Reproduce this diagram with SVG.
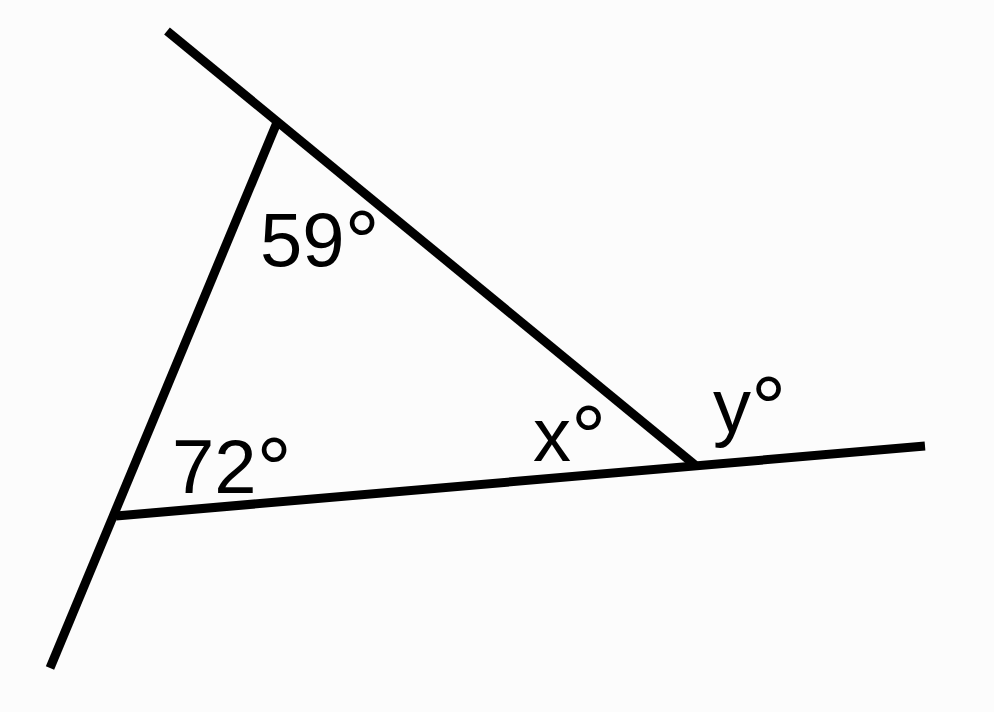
<svg xmlns="http://www.w3.org/2000/svg" width="994" height="712" viewBox="0 0 994 712">
<style>
.ln{stroke:#000;stroke-width:9;fill:none;stroke-linecap:butt}
.lb{font-family:"Liberation Sans",Arial,sans-serif;font-size:76px;fill:#000}
.dg{font-size:88px}
</style>
<rect width="994" height="712" fill="#fcfcfc"/>
<g id="connectors">
<line class="ln" x1="167" y1="31" x2="695" y2="465"/>
<line class="ln" x1="278" y1="120" x2="50" y2="668"/>
<line class="ln" x1="116" y1="516" x2="925" y2="446"/>
</g>
<g id="label-59"><text class="lb" x="260" y="266">59<tspan class="dg" dy="6">°</tspan></text></g>
<g id="label-72"><text class="lb" x="172" y="493">72<tspan class="dg" dy="6">°</tspan></text></g>
<g id="label-x"><text class="lb" x="533" y="461">x<tspan class="dg" dy="6">°</tspan></text></g>
<g id="label-y"><text class="lb" x="713" y="432">y<tspan class="dg" dy="6">°</tspan></text></g>
</svg>
